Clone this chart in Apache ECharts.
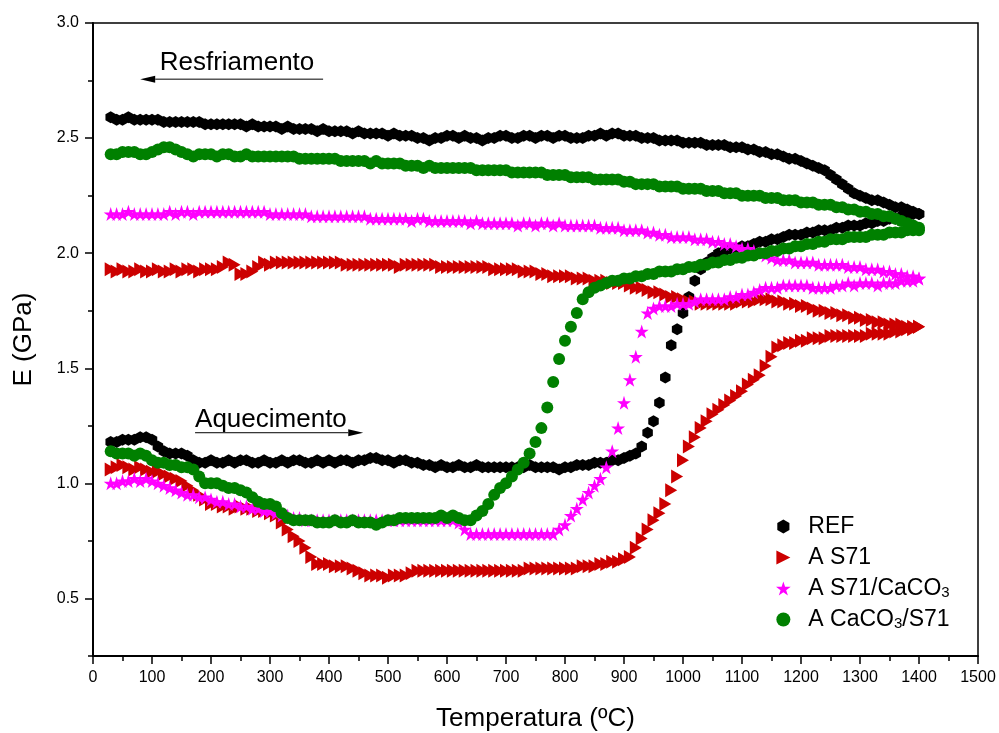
<!DOCTYPE html>
<html>
<head>
<meta charset="utf-8">
<title>E x Temperatura</title>
<script src="https://cdn.jsdelivr.net/npm/echarts@6/dist/echarts.min.js"></script>
<style>
  html, body { margin: 0; padding: 0; background: #fff; }
  #chart { width: 999px; height: 733px; }
</style>
</head>
<body>
<div id="chart"></div>
<script>
// temperatura (ºC) - aquecimento e resfriamento
var tHeat = [
  30, 40, 50, 60, 70, 80, 90,
  100, 110, 120, 130, 140, 150, 160, 170, 180, 190,
  200, 210, 220, 230, 240, 250, 260, 270, 280, 290,
  300, 310, 320, 330, 340, 350, 360, 370, 380, 390,
  400, 410, 420, 430, 440, 450, 460, 470, 480, 490,
  500, 510, 520, 530, 540, 550, 560, 570, 580, 590,
  600, 610, 620, 630, 640, 650, 660, 670, 680, 690,
  700, 710, 720, 730, 740, 750, 760, 770, 780, 790,
  800, 810, 820, 830, 840, 850, 860, 870, 880, 890,
  900, 910, 920, 930, 940, 950, 960, 970, 980, 990,
  1000, 1010, 1020, 1030, 1040, 1050, 1060, 1070, 1080, 1090,
  1100, 1110, 1120, 1130, 1140, 1150, 1160, 1170, 1180, 1190,
  1200, 1210, 1220, 1230, 1240, 1250, 1260, 1270, 1280, 1290,
  1300, 1310, 1320, 1330, 1340, 1350, 1360, 1370, 1380, 1390,
  1400
];
var tCool = [
  1400,
  1390, 1380, 1370, 1360, 1350, 1340, 1330, 1320, 1310, 1300,
  1290, 1280, 1270, 1260, 1250, 1240, 1230, 1220, 1210, 1200,
  1190, 1180, 1170, 1160, 1150, 1140, 1130, 1120, 1110, 1100,
  1090, 1080, 1070, 1060, 1050, 1040, 1030, 1020, 1010, 1000,
  990, 980, 970, 960, 950, 940, 930, 920, 910, 900,
  890, 880, 870, 860, 850, 840, 830, 820, 810, 800,
  790, 780, 770, 760, 750, 740, 730, 720, 710, 700,
  690, 680, 670, 660, 650, 640, 630, 620, 610, 600,
  590, 580, 570, 560, 550, 540, 530, 520, 510, 500,
  490, 480, 470, 460, 450, 440, 430, 420, 410, 400,
  390, 380, 370, 360, 350, 340, 330, 320, 310, 300,
  290, 280, 270, 260, 250, 240, 230, 220, 210, 200,
  190, 180, 170, 160, 150, 140, 130, 120, 110, 100,
  90, 80, 70, 60, 50, 40, 30
];

// E (GPa) - REF
var refHeat = [
  1.18, 1.18, 1.19, 1.19, 1.19, 1.20, 1.20,
  1.19, 1.16, 1.14, 1.13, 1.13, 1.13, 1.12, 1.10, 1.09, 1.09,
  1.10, 1.09, 1.09, 1.10, 1.09, 1.10, 1.10, 1.09, 1.09, 1.10,
  1.09, 1.09, 1.10, 1.09, 1.10, 1.10, 1.09, 1.09, 1.10, 1.09,
  1.10, 1.09, 1.10, 1.10, 1.09, 1.10, 1.10, 1.11, 1.11, 1.10,
  1.10, 1.09, 1.10, 1.10, 1.09, 1.09, 1.08, 1.08, 1.07, 1.08,
  1.07, 1.07, 1.08, 1.07, 1.07, 1.08, 1.07, 1.07, 1.07, 1.07,
  1.07, 1.07, 1.07, 1.07, 1.08, 1.07, 1.07, 1.07, 1.07, 1.06,
  1.07, 1.07, 1.08, 1.08, 1.08, 1.09, 1.09, 1.09, 1.10, 1.10,
  1.11, 1.12, 1.13, 1.16, 1.22, 1.27, 1.35, 1.46, 1.60, 1.67,
  1.74, 1.81, 1.88, 1.93, 1.96, 1.98, 2.00, 2.01, 2.02, 2.02,
  2.03, 2.03, 2.04, 2.05, 2.05, 2.06, 2.06, 2.07, 2.08, 2.08,
  2.08, 2.09, 2.09, 2.10, 2.10, 2.10, 2.11, 2.11, 2.12, 2.12,
  2.12, 2.13, 2.13, 2.14, 2.14, 2.15, 2.15, 2.16, 2.16, 2.17,
  2.17
];
var refCool = [
  2.17,
  2.18, 2.19, 2.20, 2.20, 2.21, 2.22, 2.23, 2.23, 2.24, 2.25,
  2.26, 2.28, 2.30, 2.32, 2.34, 2.36, 2.37, 2.38, 2.39, 2.40,
  2.41, 2.41, 2.42, 2.43, 2.43, 2.44, 2.44, 2.45, 2.45, 2.46,
  2.46, 2.46, 2.47, 2.47, 2.47, 2.47, 2.48, 2.48, 2.48, 2.48,
  2.49, 2.49, 2.49, 2.49, 2.50, 2.50, 2.50, 2.51, 2.51, 2.51,
  2.52, 2.52, 2.51, 2.52, 2.51, 2.51, 2.50, 2.50, 2.50, 2.51,
  2.51, 2.50, 2.51, 2.51, 2.50, 2.51, 2.51, 2.50, 2.50, 2.51,
  2.51, 2.50, 2.50, 2.49, 2.50, 2.50, 2.51, 2.50, 2.51, 2.51,
  2.50, 2.50, 2.49, 2.50, 2.50, 2.51, 2.51, 2.51, 2.52, 2.51,
  2.52, 2.52, 2.52, 2.52, 2.53, 2.52, 2.53, 2.53, 2.53, 2.53,
  2.54, 2.53, 2.54, 2.54, 2.54, 2.54, 2.55, 2.54, 2.55, 2.55,
  2.55, 2.55, 2.56, 2.55, 2.56, 2.56, 2.56, 2.56, 2.56, 2.56,
  2.56, 2.57, 2.57, 2.57, 2.57, 2.57, 2.57, 2.57, 2.58, 2.58,
  2.58, 2.58, 2.58, 2.59, 2.58, 2.58, 2.59
];

// E (GPa) - A S71
var s71Heat = [
  1.06, 1.07, 1.08, 1.07, 1.06, 1.07, 1.06,
  1.05, 1.05, 1.04, 1.03, 1.02, 1.01, 0.99, 0.97, 0.95, 0.93,
  0.91, 0.91, 0.90, 0.90, 0.89, 0.90, 0.89, 0.89, 0.88, 0.88,
  0.87, 0.86, 0.83, 0.80, 0.77, 0.75, 0.72, 0.68, 0.65, 0.65,
  0.65, 0.64, 0.64, 0.64, 0.63, 0.62, 0.61, 0.60, 0.60, 0.60,
  0.59, 0.60, 0.60, 0.60, 0.61, 0.62, 0.62, 0.62, 0.62, 0.62,
  0.62, 0.62, 0.62, 0.62, 0.62, 0.62, 0.62, 0.62, 0.62, 0.62,
  0.62, 0.62, 0.62, 0.62, 0.63, 0.63, 0.63, 0.63, 0.63, 0.63,
  0.63, 0.63, 0.63, 0.64, 0.64, 0.64, 0.65, 0.65, 0.66, 0.66,
  0.67, 0.68, 0.72, 0.76, 0.80, 0.84, 0.87, 0.91, 0.97, 1.03,
  1.10, 1.16, 1.20, 1.24, 1.27, 1.30, 1.32, 1.34, 1.36, 1.38,
  1.40, 1.43, 1.45, 1.47, 1.51, 1.55, 1.59, 1.60, 1.61, 1.61,
  1.62, 1.62, 1.63, 1.63, 1.63, 1.64, 1.64, 1.64, 1.64, 1.64,
  1.64, 1.64, 1.65, 1.65, 1.65, 1.65, 1.66, 1.66, 1.67, 1.67,
  1.68
];
var s71Cool = [
  1.68,
  1.68, 1.68, 1.69, 1.69, 1.69, 1.70, 1.70, 1.71, 1.71, 1.72,
  1.72, 1.73, 1.73, 1.74, 1.74, 1.75, 1.75, 1.76, 1.77, 1.77,
  1.78, 1.78, 1.79, 1.79, 1.80, 1.80, 1.80, 1.79, 1.79, 1.79,
  1.78, 1.78, 1.78, 1.78, 1.78, 1.78, 1.78, 1.79, 1.79, 1.80,
  1.81, 1.81, 1.82, 1.83, 1.83, 1.84, 1.85, 1.85, 1.86, 1.87,
  1.87, 1.87, 1.88, 1.88, 1.88, 1.89, 1.89, 1.89, 1.90, 1.90,
  1.90, 1.90, 1.91, 1.91, 1.92, 1.92, 1.92, 1.93, 1.93, 1.93,
  1.93, 1.93, 1.94, 1.94, 1.94, 1.94, 1.94, 1.94, 1.94, 1.94,
  1.94, 1.95, 1.95, 1.95, 1.95, 1.95, 1.95, 1.94, 1.95, 1.95,
  1.95, 1.95, 1.95, 1.95, 1.95, 1.95, 1.95, 1.96, 1.96, 1.96,
  1.96, 1.96, 1.96, 1.96, 1.96, 1.96, 1.96, 1.96, 1.96, 1.95,
  1.96, 1.94, 1.92, 1.91, 1.91, 1.95, 1.96, 1.94, 1.93, 1.93,
  1.93, 1.92, 1.93, 1.93, 1.92, 1.93, 1.92, 1.92, 1.93, 1.92,
  1.92, 1.93, 1.92, 1.92, 1.93, 1.92, 1.93
];

// E (GPa) - A S71/CaCO3
var s71CaHeat = [
  1.00, 1.00, 1.01, 1.01, 1.02, 1.01, 1.02,
  1.01, 1.00, 0.99, 0.98, 0.97, 0.96, 0.95, 0.95, 0.94, 0.94,
  0.93, 0.92, 0.92, 0.91, 0.91, 0.90, 0.90, 0.89, 0.89, 0.88,
  0.88, 0.87, 0.86, 0.86, 0.85, 0.85, 0.84, 0.84, 0.84, 0.84,
  0.84, 0.84, 0.84, 0.84, 0.84, 0.84, 0.84, 0.84, 0.84, 0.84,
  0.84, 0.84, 0.84, 0.84, 0.84, 0.84, 0.84, 0.84, 0.84, 0.84,
  0.84, 0.84, 0.83, 0.80, 0.78, 0.78, 0.78, 0.78, 0.78, 0.78,
  0.78, 0.78, 0.78, 0.78, 0.78, 0.78, 0.78, 0.78, 0.78, 0.80,
  0.82, 0.86, 0.89, 0.93, 0.96, 0.99, 1.02, 1.07, 1.14, 1.24,
  1.35, 1.45, 1.55, 1.66, 1.74, 1.76, 1.77, 1.77, 1.77, 1.78,
  1.78, 1.78, 1.79, 1.80, 1.80, 1.80, 1.80, 1.80, 1.81, 1.81,
  1.82, 1.82, 1.83, 1.84, 1.85, 1.85, 1.85, 1.86, 1.86, 1.86,
  1.86, 1.86, 1.85, 1.85, 1.85, 1.85, 1.86, 1.86, 1.87, 1.86,
  1.87, 1.87, 1.87, 1.86, 1.87, 1.87, 1.87, 1.88, 1.88, 1.88,
  1.89
];
var s71CaCool = [
  1.89,
  1.90, 1.90, 1.91, 1.91, 1.92, 1.92, 1.93, 1.93, 1.93, 1.94,
  1.94, 1.94, 1.95, 1.95, 1.95, 1.95, 1.95, 1.96, 1.96, 1.96,
  1.96, 1.97, 1.97, 1.97, 1.98, 1.99, 2.00, 2.01, 2.02, 2.02,
  2.03, 2.04, 2.04, 2.05, 2.05, 2.06, 2.06, 2.06, 2.07, 2.07,
  2.07, 2.07, 2.08, 2.08, 2.09, 2.09, 2.10, 2.10, 2.10, 2.10,
  2.11, 2.11, 2.11, 2.11, 2.12, 2.12, 2.12, 2.12, 2.12, 2.12,
  2.13, 2.12, 2.13, 2.13, 2.12, 2.13, 2.13, 2.12, 2.13, 2.13,
  2.13, 2.13, 2.13, 2.13, 2.14, 2.13, 2.14, 2.14, 2.14, 2.14,
  2.14, 2.14, 2.14, 2.15, 2.15, 2.14, 2.15, 2.15, 2.15, 2.15,
  2.15, 2.15, 2.15, 2.16, 2.16, 2.16, 2.16, 2.16, 2.16, 2.16,
  2.16, 2.16, 2.16, 2.17, 2.17, 2.17, 2.17, 2.17, 2.17, 2.17,
  2.18, 2.18, 2.18, 2.18, 2.18, 2.18, 2.18, 2.18, 2.18, 2.18,
  2.18, 2.18, 2.17, 2.18, 2.18, 2.17, 2.18, 2.17, 2.17, 2.17,
  2.17, 2.17, 2.17, 2.18, 2.17, 2.17, 2.17
];

// E (GPa) - A CaCO3/S71
var caS71Heat = [
  1.14, 1.13, 1.13, 1.13, 1.12, 1.13, 1.12,
  1.10, 1.09, 1.09, 1.08, 1.08, 1.07, 1.07, 1.06, 1.03, 1.00,
  1.00, 1.00, 0.99, 0.98, 0.98, 0.97, 0.96, 0.94, 0.92, 0.91,
  0.91, 0.90, 0.87, 0.85, 0.84, 0.84, 0.84, 0.84, 0.83, 0.83,
  0.83, 0.84, 0.83, 0.83, 0.84, 0.83, 0.83, 0.83, 0.82, 0.83,
  0.84, 0.84, 0.85, 0.85, 0.85, 0.85, 0.85, 0.85, 0.85, 0.86,
  0.85, 0.86, 0.85, 0.84, 0.84, 0.86, 0.88, 0.91, 0.95, 0.98,
  1.00, 1.03, 1.06, 1.09, 1.13, 1.18, 1.24, 1.33, 1.44, 1.54,
  1.62, 1.68, 1.74, 1.80, 1.83, 1.85, 1.86, 1.87, 1.88, 1.88,
  1.89, 1.89, 1.90, 1.90, 1.91, 1.91, 1.92, 1.92, 1.92, 1.93,
  1.93, 1.94, 1.94, 1.95, 1.95, 1.96, 1.96, 1.97, 1.97, 1.98,
  1.98, 1.99, 1.99, 2.00, 2.00, 2.01, 2.01, 2.02, 2.02, 2.03,
  2.03, 2.04, 2.04, 2.05, 2.05, 2.06, 2.06, 2.06, 2.07, 2.07,
  2.07, 2.07, 2.08, 2.08, 2.08, 2.09, 2.09, 2.09, 2.10, 2.10,
  2.10
];
var caS71Cool = [
  2.11,
  2.12, 2.13, 2.14, 2.15, 2.16, 2.16, 2.17, 2.17, 2.18, 2.18,
  2.19, 2.19, 2.20, 2.20, 2.21, 2.21, 2.21, 2.22, 2.22, 2.22,
  2.23, 2.23, 2.23, 2.24, 2.24, 2.24, 2.25, 2.25, 2.25, 2.25,
  2.26, 2.26, 2.26, 2.27, 2.27, 2.27, 2.28, 2.28, 2.28, 2.28,
  2.29, 2.29, 2.29, 2.29, 2.30, 2.30, 2.30, 2.30, 2.31, 2.31,
  2.32, 2.32, 2.32, 2.32, 2.32, 2.33, 2.33, 2.33, 2.33, 2.34,
  2.34, 2.34, 2.34, 2.35, 2.35, 2.35, 2.35, 2.35, 2.35, 2.36,
  2.36, 2.36, 2.36, 2.36, 2.36, 2.37, 2.37, 2.37, 2.37, 2.37,
  2.37, 2.37, 2.38, 2.37, 2.38, 2.38, 2.38, 2.39, 2.39, 2.39,
  2.39, 2.40, 2.39, 2.40, 2.40, 2.40, 2.40, 2.40, 2.41, 2.41,
  2.41, 2.41, 2.41, 2.41, 2.41, 2.42, 2.42, 2.42, 2.42, 2.42,
  2.42, 2.42, 2.42, 2.43, 2.42, 2.42, 2.43, 2.43, 2.42, 2.43,
  2.43, 2.43, 2.42, 2.43, 2.44, 2.45, 2.46, 2.46, 2.45, 2.44,
  2.43, 2.43, 2.44, 2.44, 2.44, 2.43, 2.43
];

var seriesNames = ['REF', 'A S71', 'A S71/CaCO3', 'A CaCO3/S71'];
var xTicks = [0, 100, 200, 300, 400, 500, 600, 700, 800, 900, 1000, 1100, 1200, 1300, 1400, 1500];
var yMajor = [0.5, 1.0, 1.5, 2.0, 2.5, 3.0];
var yMinor = [0.25, 0.75, 1.25, 1.75, 2.25, 2.75];

// anotações (em coordenadas dos eixos)
var coolText = [113, 2.825];
var coolArrow = [[390, 2.756], [80, 2.756]];
var heatText = [173, 1.276];
var heatArrow = [[173, 1.22], [458, 1.22]];

var FONT = '"Liberation Sans", Arial, Helvetica, sans-serif';
var hexagon = 'path://M0,-1 L0.866,-0.5 L0.866,0.5 L0,1 L-0.866,0.5 L-0.866,-0.5 Z';
var triRight = 'path://M0,0 L1,0.5 L0,1 Z';
var star = 'path://M0,-1 L0.225,-0.309 L0.951,-0.309 L0.363,0.118 L0.588,0.809 L0,0.382 L-0.588,0.809 L-0.363,0.118 L-0.951,-0.309 L-0.225,-0.309 Z';

function pairs(heat, cool) {
  var out = [];
  tHeat.forEach(function (t, i) { out.push([t, heat[i]]); });
  tCool.forEach(function (t, i) { out.push([t, cool[i]]); });
  return out;
}

function scatter(name, data, symbol, size, color) {
  return {
    name: name,
    type: 'scatter',
    data: data,
    symbol: symbol,
    symbolSize: size,
    itemStyle: { color: color, opacity: 1 },
    emphasis: { disabled: true },
    silent: true
  };
}

var chart = echarts.init(document.getElementById('chart'));
chart.setOption({
  animation: false,
  backgroundColor: '#fff',
  textStyle: { fontFamily: FONT },
  grid: {
    left: 93, right: 21, top: 23, bottom: 77,
    outerBoundsMode: 'none',
    containLabel: false,
    show: true, borderColor: '#000', borderWidth: 1.5
  },
  legend: {
    orient: 'vertical',
    left: 771,
    top: 510,
    itemWidth: 40,
    itemHeight: 14,
    itemGap: 8,
    data: seriesNames,
    formatter: function (name) { return name.replace('CaCO3', 'CaCO{sub|3}'); },
    textStyle: {
      fontFamily: FONT, fontSize: 23, color: '#000',
      rich: { sub: { fontFamily: FONT, fontSize: 15, lineHeight: 2, verticalAlign: 'bottom', color: '#000' } }
    }
  },
  xAxis: {
    type: 'value',
    min: 0, max: 1500, interval: 100,
    name: 'Temperatura (ºC)',
    nameLocation: 'middle',
    nameGap: 50,
    nameTextStyle: { fontFamily: FONT, fontSize: 26, color: '#000' },
    axisLine: { show: true, onZero: false, lineStyle: { color: '#000', width: 2 } },
    axisTick: { show: true, length: 8, lineStyle: { color: '#000', width: 1.5 } },
    minorTick: { show: true, splitNumber: 2, length: 5, lineStyle: { color: '#000', width: 1.5 } },
    axisLabel: {
      customValues: xTicks, fontFamily: FONT, fontSize: 16, color: '#000', margin: 14,
      formatter: function (v) { return String(v); }
    },
    splitLine: { show: false }
  },
  yAxis: [{
    type: 'value',
    min: 0.25, max: 3, interval: 0.25,
    name: 'E (GPa)',
    nameLocation: 'middle',
    nameGap: 56,
    nameTextStyle: { fontFamily: FONT, fontSize: 26, color: '#000' },
    axisLine: { show: true, onZero: false, lineStyle: { color: '#000', width: 2 } },
    axisTick: { show: true, customValues: yMajor, length: 8, lineStyle: { color: '#000', width: 1.5 } },
    axisLabel: {
      customValues: yMajor, fontFamily: FONT, fontSize: 16, color: '#000', margin: 14,
      formatter: function (v) { return v.toFixed(1); }
    },
    splitLine: { show: false }
  }, {
    type: 'value',
    min: 0.25, max: 3, interval: 0.25,
    position: 'left',
    axisLine: { show: false },
    axisTick: { show: true, customValues: yMinor, length: 5, lineStyle: { color: '#000', width: 1.5 } },
    axisLabel: { show: false },
    splitLine: { show: false }
  }],
  series: [
    scatter(seriesNames[0], pairs(refHeat, refCool), hexagon, [10.5, 12], '#000000'),
    scatter(seriesNames[1], pairs(s71Heat, s71Cool), triRight, [12, 14], '#cc0000'),
    scatter(seriesNames[2], pairs(s71CaHeat, s71CaCool), star, 14, '#ff00ff'),
    scatter(seriesNames[3], pairs(caS71Heat, caS71Cool), 'circle', 12, '#008000')
  ]
});

// setas e textos de aquecimento / resfriamento
function px(p) { return chart.convertToPixel({ gridIndex: 0 }, p); }
function arrow(a, b) {
  var p0 = px(a), p1 = px(b);
  var dir = p1[0] > p0[0] ? 1 : -1;
  var len = 15, hw = 3.5;
  return [{
    type: 'line',
    shape: { x1: p0[0], y1: p0[1], x2: p1[0] - dir * len, y2: p1[1] },
    style: { stroke: '#000', lineWidth: 1 }
  }, {
    type: 'polygon',
    shape: { points: [[p1[0], p1[1]], [p1[0] - dir * len, p1[1] - hw], [p1[0] - dir * len, p1[1] + hw]] },
    style: { fill: '#000' }
  }];
}
function label(txt, p) {
  var q = px(p);
  return {
    type: 'text',
    x: q[0], y: q[1],
    style: { text: txt, fontFamily: FONT, fontSize: 26, fill: '#000', align: 'left', verticalAlign: 'middle' }
  };
}
chart.setOption({
  graphic: [label('Resfriamento', coolText), label('Aquecimento', heatText)]
    .concat(arrow(coolArrow[0], coolArrow[1]))
    .concat(arrow(heatArrow[0], heatArrow[1]))
});
</script>
</body>
</html>
